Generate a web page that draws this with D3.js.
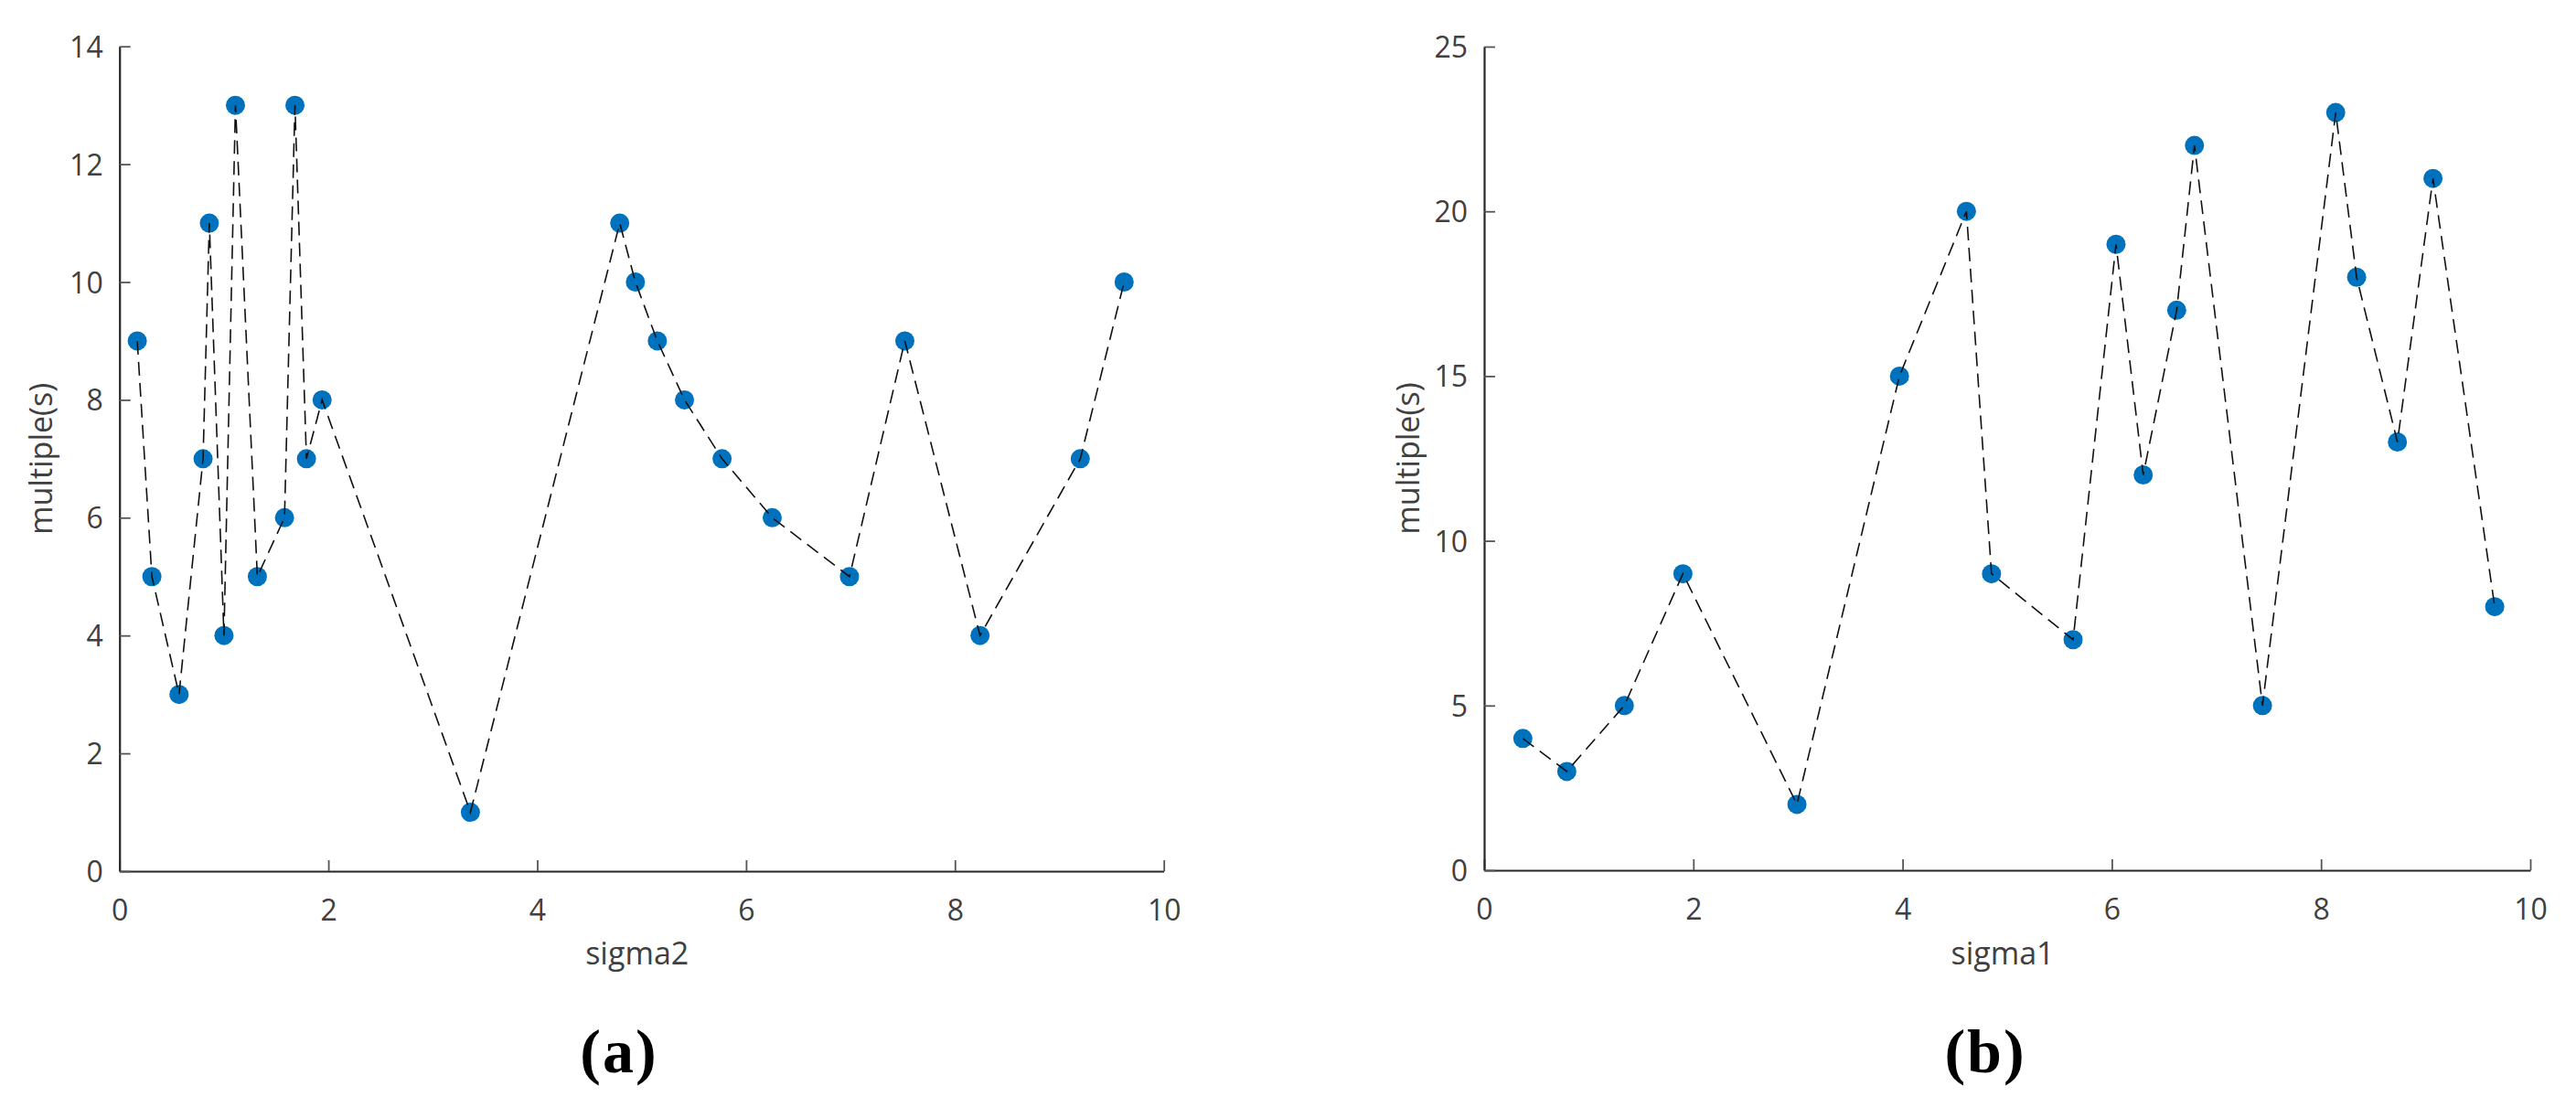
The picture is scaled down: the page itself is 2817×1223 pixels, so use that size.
<!DOCTYPE html>
<html>
<head>
<meta charset="utf-8">
<script src="https://cdn.jsdelivr.net/npm/d3@7"></script>
<style>
  html, body { margin: 0; padding: 0; background: #fff; }
  svg { display: block; }
  .tick text { font-family: "Open Sans", "Noto Sans", sans-serif; }
</style>
</head>
<body>
<svg id="chart" width="2817" height="1223"></svg>
<script>
// ---- Data ----
const sigma2 = [0.17, 0.31, 0.57, 0.80, 0.86, 1.00, 1.11, 1.32, 1.58, 1.68, 1.79, 1.94,
                3.36, 4.79, 4.94, 5.15, 5.41, 5.77, 6.25, 6.99, 7.52, 8.24, 9.20, 9.62];
const multipleA = [9, 5, 3, 7, 11, 4, 13, 5, 6, 13, 7, 8,
                   1, 11, 10, 9, 8, 7, 6, 5, 9, 4, 7, 10];
const sigma1 = [0.37, 0.79, 1.34, 1.90, 2.99, 3.97, 4.61, 4.85, 5.63, 6.04, 6.30, 6.62,
                6.79, 7.44, 8.14, 8.34, 8.73, 9.07, 9.66];
const multipleB = [4, 3, 5, 9, 2, 15, 20, 9, 7, 19, 12, 17,
                   22, 5, 23, 18, 13, 21, 8];
const xTicks = [0, 2, 4, 6, 8, 10];
const yTicksA = [0, 2, 4, 6, 8, 10, 12, 14];
const yTicksB = [0, 5, 10, 15, 20, 25];
const xLabelA = "sigma2", xLabelB = "sigma1";
const yLabel = "multiple(s)";
const captionA = "(a)", captionB = "(b)";

const svg = d3.select("#chart");
const textColor = "#404040";
const tickFont = "'Open Sans', 'Noto Sans', sans-serif";

function panel(cfg) {
  const x = d3.scaleLinear().domain([0, 10]).range([cfg.left, cfg.right]);
  const y = d3.scaleLinear().domain([0, cfg.yMax]).range([cfg.bottom, cfg.top]);
  const g = svg.append("g");

  // x axis (ticks inward)
  const xa = g.append("g").attr("transform", `translate(0,${cfg.bottom})`)
    .call(d3.axisBottom(x).tickValues(xTicks).tickSize(-12).tickPadding(0).tickSizeOuter(0).tickFormat(d3.format("d")));
  xa.select(".domain").attr("stroke", "#262626").attr("stroke-width", 2.2);
  xa.selectAll(".tick line").attr("stroke", "#555").attr("stroke-width", 1.8);
  xa.selectAll(".tick text").attr("y", 54).attr("dy", 0)
    .attr("fill", textColor).style("font-size", "32px").style("font-family", tickFont);

  // y axis (ticks inward)
  const ya = g.append("g").attr("transform", `translate(${cfg.left},0)`)
    .call(d3.axisLeft(y).tickValues(cfg.yTicks).tickSize(-12).tickPadding(0).tickSizeOuter(0).tickFormat(d3.format("d")));
  ya.select(".domain").attr("stroke", "#262626").attr("stroke-width", 2.2);
  ya.selectAll(".tick line").attr("stroke", "#555").attr("stroke-width", 1.8);
  ya.selectAll(".tick text").attr("x", -18).attr("dy", "0.36em")
    .attr("fill", textColor).style("font-size", "32px").style("font-family", tickFont);

  const pts = cfg.xs.map((v, i) => [v, cfg.ys[i]]);

  // markers
  g.append("g").selectAll("circle").data(pts).join("circle")
    .attr("cx", d => x(d[0])).attr("cy", d => y(d[1])).attr("r", 10.5)
    .attr("fill", "#0072BD");

  // dashed line on top
  g.append("path").datum(pts)
    .attr("d", d3.line().x(d => x(d[0])).y(d => y(d[1])))
    .attr("fill", "none").attr("stroke", "#111").attr("stroke-width", 1.6)
    .attr("stroke-dasharray", "15,8");

  // axis labels
  g.append("text").attr("x", (cfg.left + cfg.right) / 2 - 5).attr("y", 1055)
    .attr("text-anchor", "middle").attr("fill", textColor)
    .style("font-family", tickFont).style("font-size", "34px").text(cfg.xLabel);
  g.append("text").attr("transform", `translate(${cfg.yLabelX},${(cfg.top + cfg.bottom) / 2}) rotate(-90)`)
    .attr("text-anchor", "middle").attr("dy", "0.35em").attr("fill", textColor)
    .style("font-family", tickFont).style("font-size", "34px").text(yLabel);

  // caption
  g.append("text").attr("x", cfg.capX).attr("y", 1173)
    .attr("text-anchor", "middle").attr("fill", "#000")
    .style("font-family", "'Liberation Serif', 'DejaVu Serif', serif")
    .style("font-weight", "bold").style("font-size", "68px").style("letter-spacing", "2px")
    .text(cfg.caption);
}

panel({ left: 130.7, right: 1272.7, top: 50.7, bottom: 953, yMax: 14, yTicks: yTicksA,
        xs: sigma2, ys: multipleA, xLabel: xLabelA, yLabelX: 45, capX: 677, caption: captionA });
panel({ left: 1623, right: 2767, top: 51, bottom: 952, yMax: 25, yTicks: yTicksB,
        xs: sigma1, ys: multipleB, xLabel: xLabelB, yLabelX: 1540, capX: 2171, caption: captionB });
</script>
</body>
</html>
